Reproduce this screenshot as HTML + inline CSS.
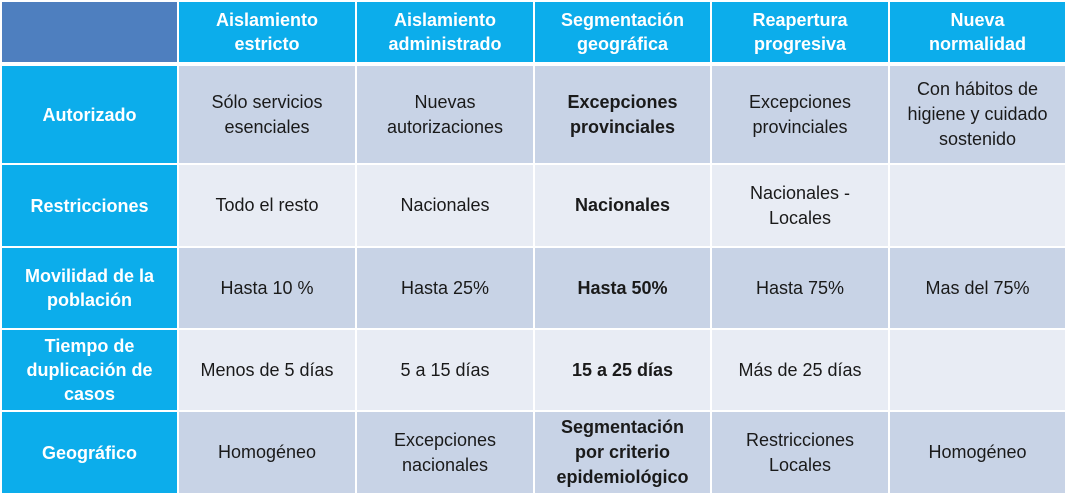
<!DOCTYPE html>
<html><head><meta charset="utf-8"><style>
body{margin:0;width:1067px;height:497px;background:#fff;overflow:hidden;font-family:"Liberation Sans",sans-serif}
.c{position:absolute;display:flex;align-items:center;justify-content:center;text-align:center;font-size:18px;line-height:25px;color:#1a1a1a}
.h{background:#0cadeb;color:#fff;font-weight:bold}
.d{background:#c8d3e6}.l{background:#e8ecf4}
b{font-weight:bold}
</style></head><body>
<div id="t"></div>
<script>
var xs=[[2,177],[179,355],[357,533],[535,710],[712,888],[890,1065]];
var ys=[[2,62],[66,163],[165,246],[248,328],[330,410],[412,493]];
var data=[
["","Aislamiento<br>estricto","Aislamiento<br>administrado","Segmentación<br>geográfica","Reapertura<br>progresiva","Nueva<br>normalidad"],
["Autorizado","Sólo servicios<br>esenciales","Nuevas<br>autorizaciones","<b>Excepciones<br>provinciales</b>","Excepciones<br>provinciales","Con hábitos de<br>higiene y cuidado<br>sostenido"],
["Restricciones","Todo el resto","Nacionales","<b>Nacionales</b>","Nacionales -<br>Locales",""],
["Movilidad de la<br>población","Hasta 10 %","Hasta 25%","<b>Hasta 50%</b>","Hasta 75%","Mas del 75%"],
["Tiempo de<br>duplicación de<br>casos","Menos de 5 días","5 a 15 días","<b>15 a 25 días</b>","Más de 25 días",""],
["Geográfico","Homogéneo","Excepciones<br>nacionales","<b>Segmentación<br>por criterio<br>epidemiológico</b>","Restricciones<br>Locales","Homogéneo"]];
var h="";
for(var r=0;r<6;r++)for(var c=0;c<6;c++){
var cls=(r==0||c==0)?"h":(r%2?"d":"l");var st="";
if(r==0&&c==0)st="background:#4e7fbf;";
if(r==0||c==0)st+="font-size:18px;line-height:24px;";
h+='<div class="c '+cls+'" style="'+st+'left:'+xs[c][0]+'px;top:'+ys[r][0]+'px;width:'+(xs[c][1]-xs[c][0])+'px;height:'+(ys[r][1]-ys[r][0])+'px">'+data[r][c]+'</div>';}
document.getElementById("t").innerHTML=h;
</script>
</body></html>
